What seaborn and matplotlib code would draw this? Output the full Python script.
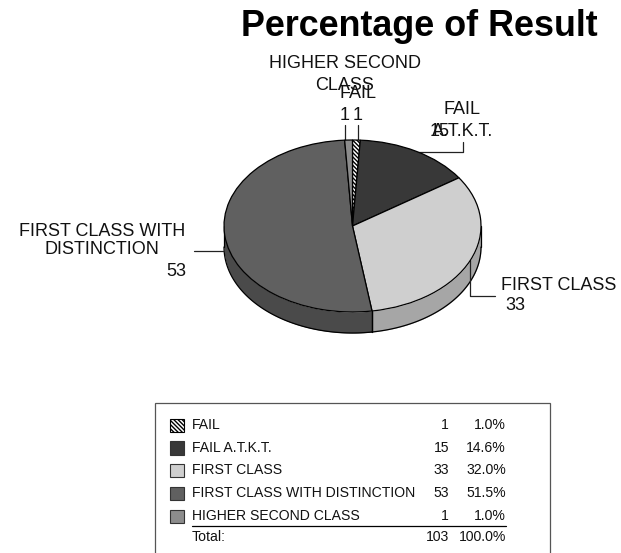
import numpy as np
import matplotlib
matplotlib.use("Agg")
import matplotlib.pyplot as plt
from matplotlib.patches import Rectangle
import seaborn as sns

categories = ["FAIL", "FAIL A.T.K.T.", "FIRST CLASS", "FIRST CLASS WITH DISTINCTION", "HIGHER SECOND CLASS"]
counts = [1, 15, 33, 53, 1]
top_colors = ["#ffffff", "#383838", "#cfcfcf", "#606060", "#8c8c8c"]
rim_colors = ["#a0a0a0", "#262626", "#a6a6a6", "#4a4a4a", "#6a6a6a"]
hatches = ["\\\\\\\\\\\\\\\\", None, None, None, None]
total_label = "Total:"
title = "Percentage of Result"

sns.set_theme(style="white")
plt.rcParams["font.family"] = ["Liberation Sans", "DejaVu Sans"]
plt.rcParams["hatch.linewidth"] = 1.0

W, H = 621, 553
CX, CY, RX, RY, DEPTH = 352.5, 226, 128.5, 86, 21
fig = plt.figure(figsize=(W / 100, H / 100), dpi=100, facecolor="white")
bg = fig.add_axes([0, 0, 1, 1])
bg.set_xlim(0, W); bg.set_ylim(H, 0); bg.axis("off")

# rim, bottom half only, from the data's angles
angles = 90 - np.cumsum([0] + counts) / sum(counts) * 360
for i in range(len(counts)):
    lo2 = max(angles[i + 1], -180)
    hi2 = min(angles[i], 0)
    if lo2 >= hi2:
        continue
    t = np.radians(np.linspace(lo2, hi2, 80))
    x = CX + RX * np.cos(t)
    y = CY - RY * np.sin(t)
    bg.fill_between(x, y, y + DEPTH, color=rim_colors[i], lw=0, zorder=1)
    bg.plot(x, y + DEPTH, color="black", lw=0.9, zorder=2)
    for e in (lo2, hi2):
        ex = CX + RX * np.cos(np.radians(e)); ey = CY - RY * np.sin(np.radians(e))
        bg.plot([ex, ex], [ey, ey + DEPTH], color="black", lw=0.9, zorder=2)

# top of the pie
pie_ax = fig.add_axes([(CX - RX) / W, 1 - (CY + RY) / H, 2 * RX / W, 2 * RY / H])
wedges, _ = pie_ax.pie(counts, colors=top_colors, startangle=90, counterclock=False, radius=1,
                       hatch=hatches, wedgeprops=dict(edgecolor="black", linewidth=0.9))
pie_ax.set_aspect("auto"); pie_ax.set_xlim(-1, 1); pie_ax.set_ylim(-1, 1)
for w in wedges:
    w.set_clip_on(False)
pie_ax.patch.set_alpha(0)

bg.text(419, 26.5, title, fontsize=25.8, fontweight="bold", ha="center", va="center", color="black")

fs = 13
def lab(x, y, s):
    bg.text(x, y, s, fontsize=fs, ha="center", va="center", color="#111111", zorder=5)

lab(345, 63, "HIGHER SECOND"); lab(345, 85, "CLASS"); lab(358, 93, "FAIL")
lab(345, 115, str(counts[4])); lab(358, 115, str(counts[0]))
lab(462, 110, "FAIL"); lab(462.5, 132, "A.T.K.T."); lab(440, 132, str(counts[1]))
lab(102, 231, "FIRST CLASS WITH"); lab(102, 250, "DISTINCTION"); lab(176, 272, str(counts[3]))
lab(559, 285, "FIRST CLASS"); lab(515, 306, str(counts[2]))

lead = dict(color="#222222", lw=0.9, zorder=4)
bg.plot([345, 345], [125, 140], **lead)
bg.plot([358, 358], [125, 140], **lead)
bg.plot([418, 463, 463], [152, 152, 142], **lead)
bg.plot([194, 224], [251, 251], **lead)
bg.plot([470, 470, 495], [260, 296, 296], **lead)

# table legend: the box's lower edge runs past the canvas
bg.add_patch(Rectangle((155, 403), 395, 160, fc="white", ec="#555555", lw=0.9, zorder=3))
row_y = [425, 447.5, 470, 493, 516]
lfs = 10.1
for i, c in enumerate(categories):
    bg.add_patch(Rectangle((170, row_y[i] - 6.5), 13.5, 13.5, fc=top_colors[i],
                           ec="black" if hatches[i] else "#333333", lw=0.8,
                           hatch=hatches[i], zorder=4))
    bg.text(192, row_y[i], c, fontsize=lfs, va="center", zorder=5, color="#111111")
    bg.text(449, row_y[i], str(counts[i]), fontsize=lfs, va="center", ha="right", zorder=5, color="#111111")
    bg.text(506, row_y[i], f"{counts[i] / sum(counts) * 100:.1f}%", fontsize=lfs, va="center", ha="right", zorder=5, color="#111111")
bg.plot([192, 506], [526.3, 526.3], color="black", lw=0.9, zorder=5)
bg.text(192, 537, total_label, fontsize=lfs, va="center", zorder=5, color="#111111")
bg.text(449, 537, str(sum(counts)), fontsize=lfs, va="center", ha="right", zorder=5, color="#111111")
bg.text(506, 537, "100.0%", fontsize=lfs, va="center", ha="right", zorder=5, color="#111111")

fig.savefig("out.png", dpi=100, facecolor="white")
